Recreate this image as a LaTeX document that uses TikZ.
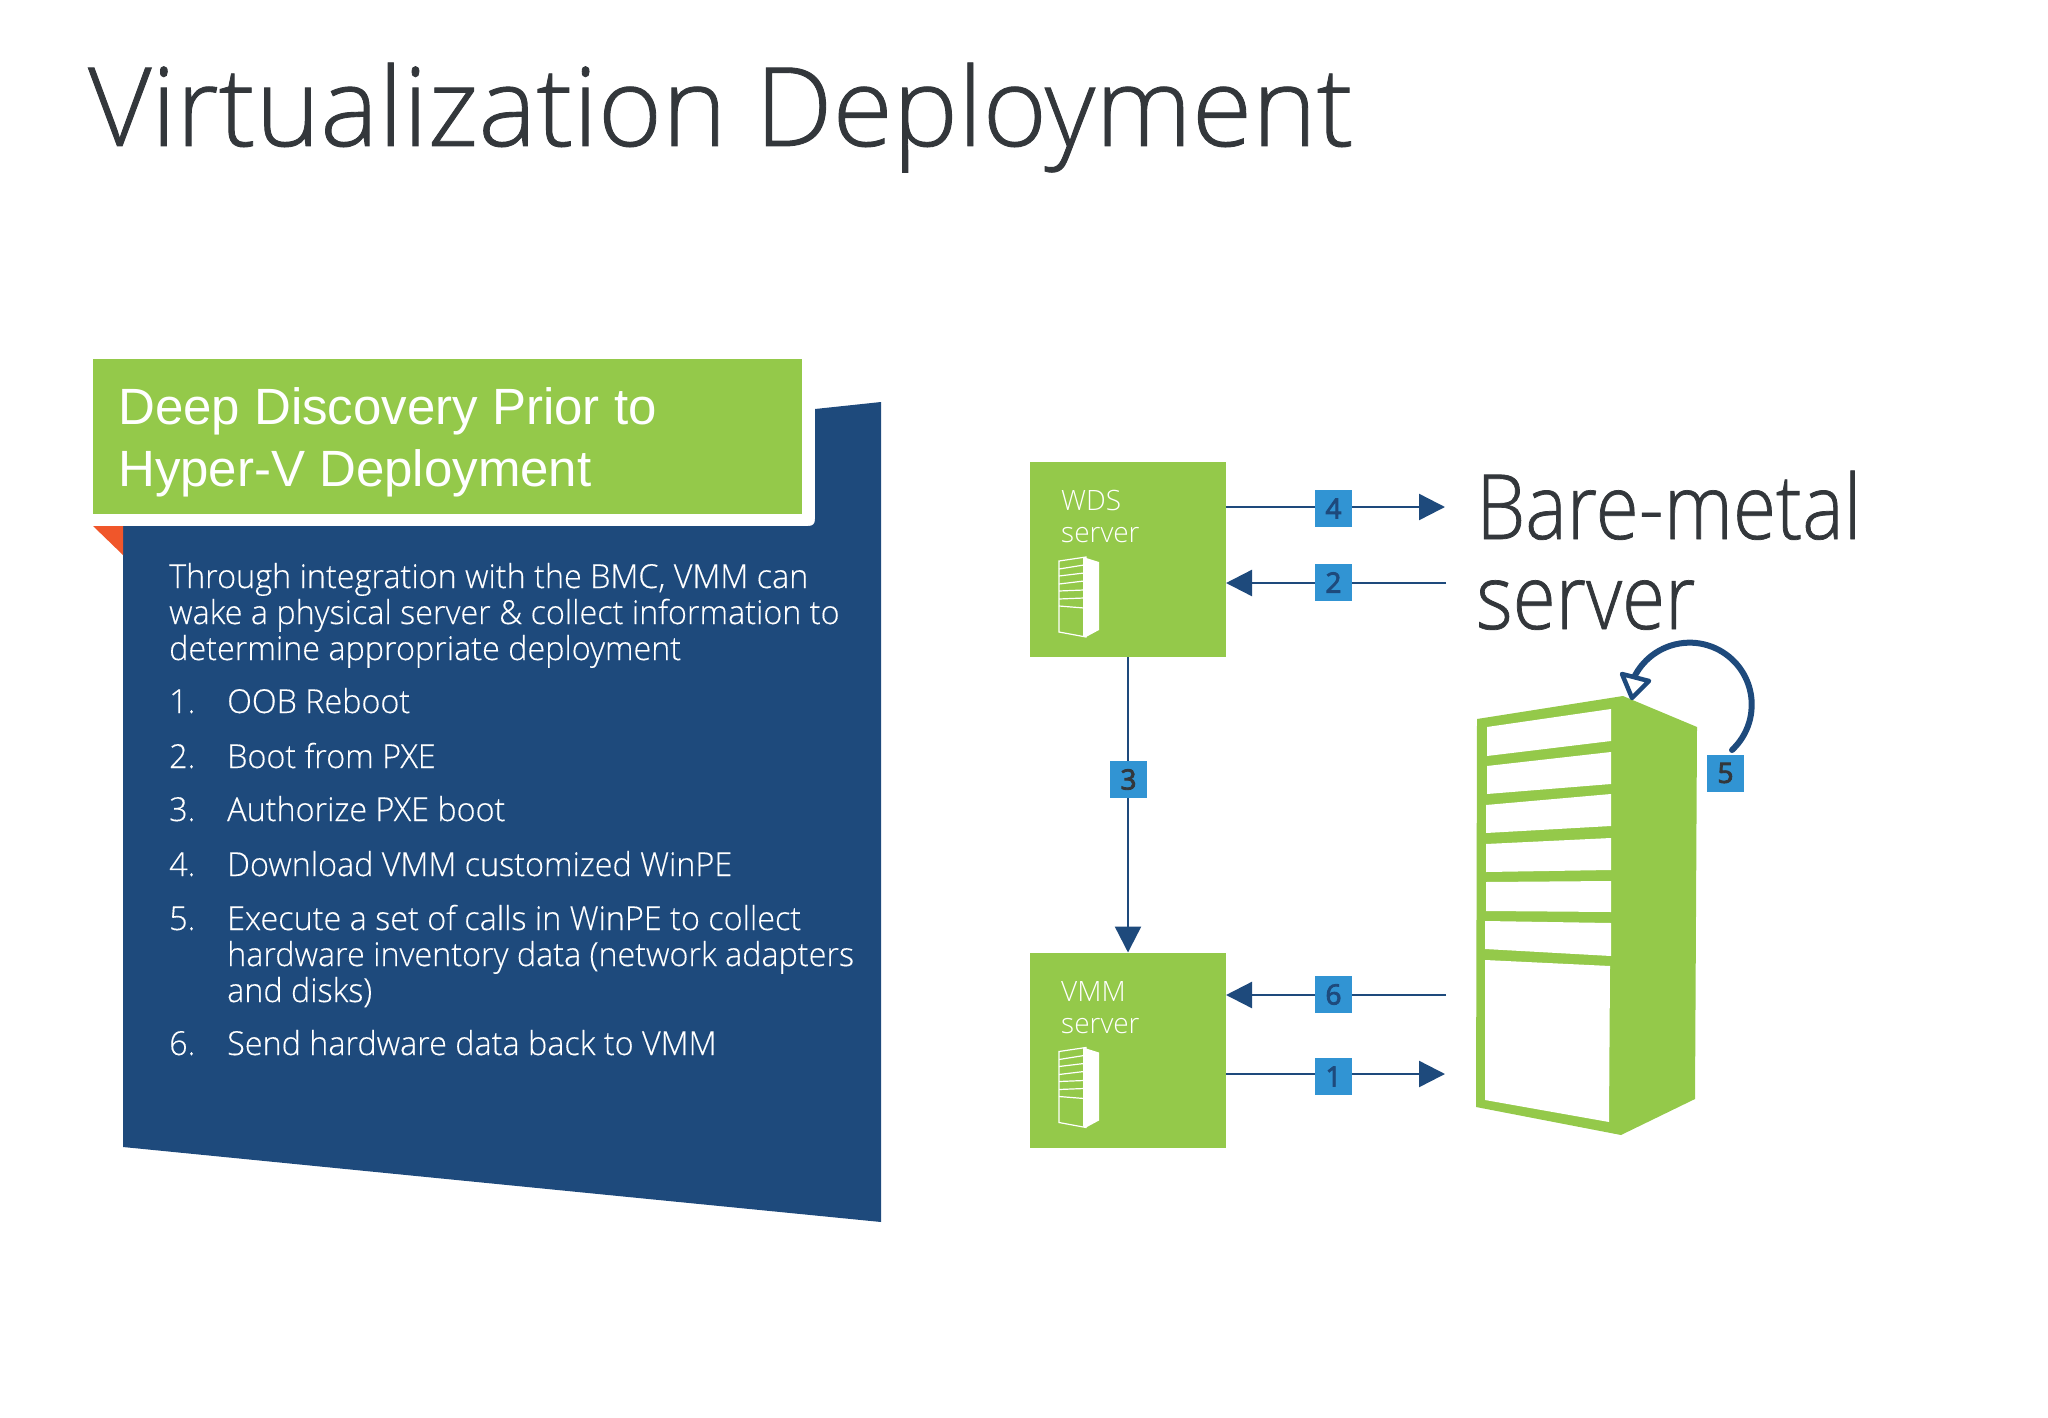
\documentclass[tikz,border=0pt]{standalone}
\usepackage{fontspec}
\setmainfont{Open Sans Light}
\newfontfamily\titlefont[FakeBold=0.8]{Open Sans Light}
\newfontfamily\barefont[FakeStretch=0.87, FakeBold=0.8]{Open Sans Light}
\newfontfamily\headfont{Liberation Sans}
\newfontfamily\bodyfont[FakeStretch=0.98, FakeBold=0.3]{Open Sans Light}
\newfontfamily\numfont{Open Sans}[FakeBold=3]
\usetikzlibrary{calc, arrows.meta}

\definecolor{srvgreen}{HTML}{94C94A}
\definecolor{navy}{HTML}{1E4A7C}
\definecolor{badgeblue}{HTML}{3194D3}
\definecolor{darktext}{HTML}{33373B}
\definecolor{cornerred}{HTML}{F0562A}

\begin{document}
\begin{tikzpicture}[
        x=1pt, y=-1pt,
        greenbox/.style={fill=srvgreen, minimum width=196pt, minimum height=195pt, inner sep=0pt, outer sep=0pt},
        flow/.style={draw=navy, line width=2.4pt, -{Triangle[length=26pt, width=26pt]}},
        badge/.style={fill=badgeblue, minimum size=37pt, inner sep=0pt, text=navy, font=\fontsize{28}{28}\numfont},
        srvlabel/.style={anchor=base west, align=left, text=white, inner sep=0pt, font=\fontsize{28}{32}\selectfont},
        bodytext/.style={anchor=base west, align=left, text=white, inner sep=0pt, font=\fontsize{33}{36}\bodyfont},
        srvicon/.pic={
            \draw[white, line width=1.2pt] (29,99) -- (56,95) -- (56,175) -- (29,170) -- cycle;
            \fill[white] (53,95) -- (69,100) -- (69,168) -- (56,175) -- (53,174) -- cycle;
            \foreach \ya/\yb in {107/103, 114/111, 122/119, 129/128, 137/136, 144/146}
                \draw[white, line width=1.2pt] (29,\ya) -- (54,\yb);
        }
    ]

    \useasboundingbox (0,0) rectangle (2048,1418);

    \node[anchor=base west, inner sep=0pt, text=darktext, font=\fontsize{109.6}{110}\titlefont] (title) at (88,146) {Virtualization Deployment};

    % left panel
    \fill[navy] (815,409) -- (881,402) -- (881,1222) -- (123,1147) -- (123,526) -- (808,526)
        .. controls (813,526) and (815,524) .. (815,519) -- cycle;
    \fill[cornerred] (93,526) -- (123,526) -- (123,555) -- cycle;
    \fill[srvgreen] (93,359) rectangle (802,514);
    \node[anchor=base west, align=left, inner sep=0pt, text=white, font=\fontsize{51}{62}\headfont] (panelhead) at (118,486) {Deep Discovery Prior to\\Hyper-V Deployment};

    \node[bodytext] (intro) at (169,660) {Through integration with the BMC, VMM can\\wake a physical server \& collect information to\\determine appropriate deployment};
    \foreach \y/\num/\txt in {713/1/OOB Reboot, 768/2/Boot from PXE, 821/3/Authorize PXE boot, 876/4/Download VMM customized WinPE, 1055/6/Send hardware data back to VMM} {
        \node[bodytext] (n\num) at (169,\y) {\num.};
        \node[bodytext] (item\num) at (227,\y) {\txt};
    }
    \node[bodytext] (n5) at (169,930) {5.};
    \node[bodytext] (item5) at (227,1002) {Execute a set of calls in WinPE to collect\\hardware inventory data (network adapters\\and disks)};

    % servers
    \node[greenbox] (wds) at (1128,559.5) {};
    \node[greenbox] (vmm) at (1128,1050) {};
    \pic at (wds.north west) {srvicon};
    \pic at (vmm.north west) {srvicon};
    \node[srvlabel] (wdslabel) at (1061,542) {WDS\\server};
    \node[srvlabel] (vmmlabel) at (1061,1033) {VMM\\server};

    \coordinate (bm4) at (1445,507);
    \coordinate (bm2) at (1446,583);
    \coordinate (bm6) at (1446,995);
    \coordinate (bm1) at (1445,1074);

    \draw[flow] (wds.east |- bm4) -- (bm4);
    \draw[flow] (bm2) -- (wds.east |- bm2);
    \draw[flow] (wds) -- (vmm.north);
    \draw[flow] (bm6) -- (vmm.east |- bm6);
    \draw[flow] (vmm.east |- bm1) -- (bm1);

    \node[badge] (b4) at (1333.5,508.5) {4};
    \node[badge] (b2) at (1333.5,582.5) {2};
    \node[badge, text=darktext] (b3) at (1128.5,779.5) {3};
    \node[badge] (b6) at (1333.5,994.5) {6};
    \node[badge] (b1) at (1333.5,1076.5) {1};

    \node[anchor=base west, align=left, inner sep=0pt, text=darktext, font=\fontsize{90}{90}\barefont] (bare) at (1476,629) {Bare-metal\\server};

    % big server
    \fill[srvgreen] (1477,719) -- (1623,696) -- (1697,727) -- (1695,1099) -- (1621,1135) -- (1476,1107) -- cycle;
    \foreach \xa/\ya/\xb/\yb/\xc/\yc/\xd/\yd in {
        1487/727/1611/709/1611/741/1487/756,
        1487/766/1611/752/1611/784/1487/794,
        1486/805/1611/794/1611/826/1486/833,
        1486/844/1611/838/1611/870/1486/872,
        1486/882/1611/881/1611/912/1486/911,
        1485/921/1611/923/1611/956/1485/949,
        1485/960/1610/966/1609/1122/1485/1100}
        \fill[white] (\xa,\ya) -- (\xb,\yb) -- (\xc,\yc) -- (\xd,\yd) -- cycle;

    % loop on the big server
    \coordinate (loopstart) at (1732,750);
    \draw[navy, line width=6pt, line cap=round] (loopstart) arc[start angle=-47, end angle=153, radius=62pt, y=1pt];
    \draw[navy, fill=white, line width=4.5pt, line join=round] (1622,674) -- (1649,681) -- (1632,698) -- cycle;
    \node[badge, text=darktext] (b5) at (1725.5,773) {5};
\end{tikzpicture}
\end{document}
